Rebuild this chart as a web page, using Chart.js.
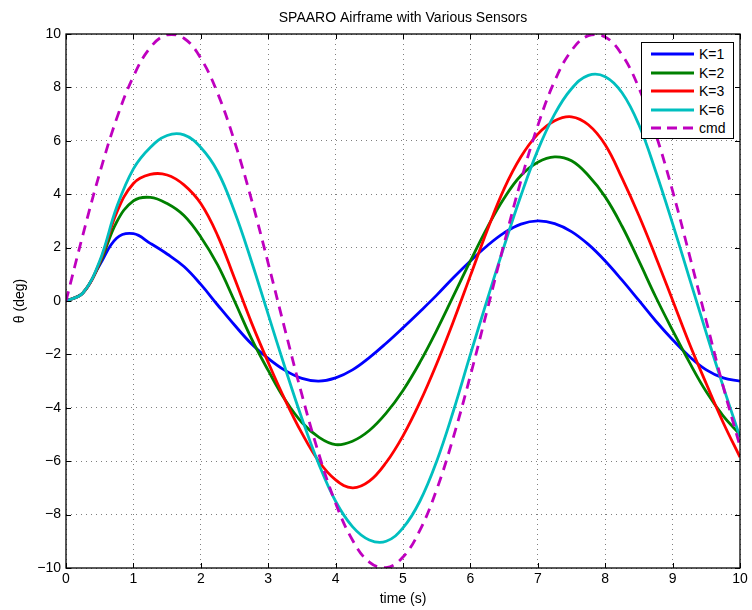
<!DOCTYPE html>
<html>
<head>
<meta charset="utf-8">
<script src="https://cdn.jsdelivr.net/npm/chart.js@4.4.1/dist/chart.umd.min.js"></script>
<style>
  body { margin: 0; background: #fff; }
  #wrap { position: relative; width: 752px; height: 610px; }
  #legend {
    position: absolute; left: 641px; top: 42px; width: 91px; height: 95px;
    background: #fff; border: 1px solid #000;
    font-family: 'Liberation Sans', Arial, sans-serif; font-size: 14px; color: #000;
  }
  #legend .row { position: absolute; left: 0; height: 18px; line-height: 18px; }
  #legend svg { position: absolute; left: 9px; top: 6px; }
  #legend span { position: absolute; left: 57px; top: 0; white-space: nowrap; }
</style>
</head>
<body>
<div id="wrap">
  <canvas id="chart" width="752" height="610"></canvas>
  <div id="legend"></div>
</div>
<script>
// time samples (s)
const time = [0, 0.25, 0.5, 0.75, 1, 1.25, 1.5, 1.75, 2, 2.25, 2.5, 2.75, 3, 3.25, 3.5, 3.75,
              4, 4.25, 4.5, 4.75, 5, 5.25, 5.5, 5.75, 6, 6.25, 6.5, 6.75, 7, 7.25, 7.5, 7.75,
              8, 8.25, 8.5, 8.75, 9, 9.25, 9.5, 9.75, 10];

// theta (deg)
const k1 = [0, 0.3, 1.35, 2.35, 2.52, 2.16, 1.76, 1.29, 0.62, -0.15, -0.9, -1.6, -2.15, -2.6, -2.9, -3.0,
            -2.88, -2.58, -2.12, -1.58, -1.0, -0.4, 0.22, 0.88, 1.5, 2.07, 2.55, 2.88, 3.0, 2.9, 2.6, 2.12,
            1.5, 0.78, 0.02, -0.75, -1.45, -2.08, -2.58, -2.88, -3.0];
const k2 = [0, 0.3, 1.4, 2.95, 3.75, 3.88, 3.65, 3.2, 2.4, 1.35, 0.0, -1.4, -2.6, -3.7, -4.55, -5.1,
            -5.38, -5.25, -4.85, -4.2, -3.35, -2.3, -1.1, 0.2, 1.5, 2.75, 3.85, 4.7, 5.2, 5.4, 5.25, 4.7,
            3.9, 2.8, 1.5, 0.15, -1.1, -2.3, -3.4, -4.3, -5.0];
const k3 = [0, 0.3, 1.45, 3.3, 4.4, 4.74, 4.72, 4.35, 3.65, 2.45, 0.85, -0.8, -2.3, -3.7, -4.95, -6.0,
            -6.7, -7.0, -6.75, -6.05, -5.05, -3.8, -2.35, -0.75, 0.95, 2.65, 4.2, 5.4, 6.25, 6.75, 6.9, 6.6,
            5.85, 4.6, 3.2, 1.65, 0.03, -1.6, -3.1, -4.55, -5.85];
const k6 = [0, 0.3, 1.5, 3.5, 4.95, 5.75, 6.2, 6.22, 5.75, 4.85, 3.35, 1.5, -0.5, -2.5, -4.4, -6.1,
            -7.5, -8.45, -8.95, -9.0, -8.5, -7.5, -6.0, -4.1, -2.0, 0.05, 2.05, 3.95, 5.65, 7.0, 7.95, 8.45,
            8.4, 7.8, 6.6, 4.85, 2.9, 0.85, -1.2, -3.2, -5.1];
const cmd = [0, 2.47, 4.79, 6.82, 8.41, 9.49, 9.97, 9.84, 9.09, 7.78, 5.98, 3.82, 1.41, -1.08, -3.51, -5.72,
             -7.57, -8.95, -9.78, -9.99, -9.59, -8.59, -7.06, -5.08, -2.79, -0.33, 2.15, 4.51, 6.57, 8.24, 9.38, 9.94,
             9.89, 9.22, 7.98, 6.25, 4.12, 1.72, -0.75, -3.2, -5.44];

const names = ['K=1', 'K=2', 'K=3', 'K=6', 'cmd'];
const colors = ['#0000ff', '#008000', '#ff0000', '#00bfbf', '#bf00bf'];
const xTicks = [0, 1, 2, 3, 4, 5, 6, 7, 8, 9, 10];
const yTicks = [-10, -8, -6, -4, -2, 0, 2, 4, 6, 8, 10];

const font = "'Liberation Sans', Arial, sans-serif";
Chart.defaults.font.family = font;
Chart.defaults.color = '#000';

const series = [k1, k2, k3, k6, cmd];
const datasets = series.map((s, i) => ({
  label: names[i],
  data: time.map((t, j) => ({ x: t, y: s[j] })),
  borderColor: colors[i],
  borderWidth: 2.8,
  borderDash: names[i] === 'cmd' ? [10, 7] : [],
  pointRadius: 0,
  tension: 0.4,
  fill: false,
  order: series.length - i
}));

const minus = v => (v < 0 ? '\u2212' + Math.abs(v) : String(v));

// axes box with inward ticks, like the original figure
const boxPlugin = {
  id: 'box',
  afterDatasetsDraw(chart) {
    const { ctx, chartArea: a, scales } = chart;
    ctx.save();
    ctx.strokeStyle = '#000';
    ctx.lineWidth = 1;
    ctx.beginPath();
    xTicks.forEach(v => {
      const px = Math.round(scales.x.getPixelForValue(v)) + 0.5;
      ctx.moveTo(px, a.bottom); ctx.lineTo(px, a.bottom - 5);
      ctx.moveTo(px, a.top); ctx.lineTo(px, a.top + 5);
    });
    yTicks.forEach(v => {
      const py = Math.round(scales.y.getPixelForValue(v)) + 0.5;
      ctx.moveTo(a.left, py); ctx.lineTo(a.left + 5, py);
      ctx.moveTo(a.right, py); ctx.lineTo(a.right - 5, py);
    });
    ctx.stroke();
    ctx.lineWidth = 1.3;
    ctx.strokeRect(a.left, a.top, a.right - a.left, a.bottom - a.top);
    ctx.restore();
  }
};

new Chart(document.getElementById('chart'), {
  type: 'line',
  data: { datasets: datasets },
  options: {
    responsive: false,
    animation: false,
    layout: { padding: { left: 0, right: 12, top: 0, bottom: 0 } },
    plugins: {
      legend: { display: false },
      tooltip: { enabled: false },
      title: {
        display: true,
        text: 'SPAARO Airframe with Various Sensors',
        fullSize: false,
        font: { size: 14, weight: 'normal', family: font },
        color: '#000',
        padding: { top: 10, bottom: 7.2 }
      }
    },
    scales: {
      x: {
        type: 'linear',
        min: 0, max: 10,
        afterFit: s => { s.height = 42; },
        afterBuildTicks: s => { s.ticks = xTicks.map(v => ({ value: v })); },
        ticks: { font: { size: 14 }, padding: 3, maxRotation: 0, callback: minus },
        grid: { color: 'rgba(0,0,0,0.5)', lineWidth: 1, drawTicks: false },
        border: { display: false, dash: [1, 4] },
        title: { display: true, text: 'time (s)', font: { size: 14 }, padding: { top: 2, bottom: 2 } }
      },
      y: {
        type: 'linear',
        min: -10, max: 10,
        afterFit: s => { s.width = 66; },
        afterBuildTicks: s => { s.ticks = yTicks.map(v => ({ value: v })); },
        ticks: { font: { size: 14 }, padding: 5, callback: minus },
        grid: { color: 'rgba(0,0,0,0.5)', lineWidth: 1, drawTicks: false },
        border: { display: false, dash: [1, 4] },
        title: { display: true, text: '\u03b8 (deg)', font: { size: 14 }, padding: { top: 12, bottom: 12 } }
      }
    }
  },
  plugins: [boxPlugin]
});

// legend box drawn as html, from the same names/colours
const legend = document.getElementById('legend');
names.forEach((n, i) => {
  const row = document.createElement('div');
  row.className = 'row';
  row.style.top = (2 + i * 18.6) + 'px';
  row.style.width = '91px';
  const dash = n === 'cmd' ? ' stroke-dasharray="10 6"' : '';
  row.innerHTML = '<svg width="44" height="6"><line x1="0" y1="3" x2="43" y2="3" stroke="' + colors[i] +
    '" stroke-width="3"' + dash + '/></svg><span>' + n + '</span>';
  legend.appendChild(row);
});
</script>
</body>
</html>
